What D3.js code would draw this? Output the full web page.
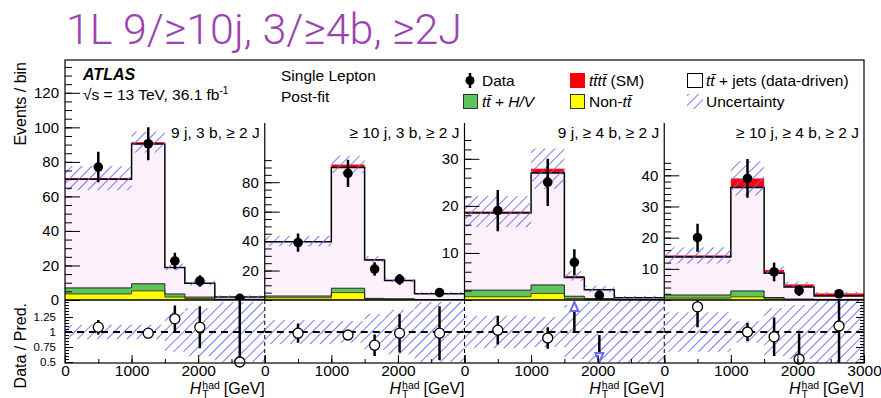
<!DOCTYPE html><html><meta charset="UTF-8">
<title>1L 9/10j, 3/4b, 2J</title>
<style>
body { margin: 0; background: #fff; overflow: hidden; }
text { font-family: "Liberation Sans", Arial, Helvetica, sans-serif; fill: #000; }
.title { font-family: Roboto, "Liberation Sans", sans-serif; font-weight: 300; fill: #9a44b2; }
</style>
<script src="https://cdn.jsdelivr.net/npm/d3@7"></script>
<svg width="881" height="398"></svg>
<script>

// HT(had) bin edges, same for every region
var bins = [0, 1000, 1500, 1800, 2250, 3000];
var regions = ["9 j, 3 b, \u2265 2 J", "\u2265 10 j, 3 b, \u2265 2 J",
               "9 j, \u2265 4 b, \u2265 2 J", "\u2265 10 j, \u2265 4 b, \u2265 2 J"];

// stacked backgrounds, one row per region
var nonTT  = [[3.5, 5.3, 1.7, 0.8, 0.2], [1.5, 5.0, 0.7, 0.5, 0.2], [0.7, 1.4, 0.3, 0.1, 0.05], [0.6, 1.0, 0.3, 0.1, 0.05]];
var ttHV   = [[3.5, 4.1, 1.8, 0.9, 0.2], [1.2, 3.0, 0.4, 0.3, 0.1], [1.4, 1.8, 0.5, 0.2, 0.05], [1.0, 1.9, 0.5, 0.2, 0.15]];
var ttJets = [[63, 81, 15.3, 8.0, 1.4], [36.8, 82, 26.1, 12.4, 4.0], [16.4, 23.8, 4.0, 1.9, 0.4], [12.2, 33.2, 7.8, 3.9, 1.1]];
var tttt   = [[0.6, 1.0, 0.3, 0.2, 0.1], [0.5, 2.0, 0.6, 0.4, 0.3], [0.3, 0.9, 0.3, 0.15, 0.1], [0.5, 2.9, 1.0, 0.8, 0.8]];
var uncert = [[7, 6, 2, 1.5, 0.8], [3.5, 6, 2, 1.5, 0.8], [3.3, 4.3, 1.0, 0.7, 0.3], [2.6, 5.5, 1.2, 0.9, 0.5]];

// data
var data    = [[77, 90.5, 22.6, 11, 1], [39, 86, 21, 14, 5], [19, 25, 8, 1, null], [20, 39, 9, 3, 2]];
var dataErr = [[8.8, 9.5, 4.8, 3.3, 1], [6.2, 9.3, 4.6, 3.7, 2.2], [4.4, 5, 2.8, 1, null], [4.5, 6.2, 3, 1.7, 1.4]];

// ratio panel
var ratio     = [[1.08, 0.98, 1.22, 1.08, 0.5], [0.98, 0.95, 0.78, 0.98, 0.98], [1.03, 0.9, 1.6, 0.37, null], [1.42, 1.0, 0.92, 0.55, 1.1]];
var ratioErr  = [[0.12, 0.05, 0.22, 0.35, 1.05], [0.16, 0.08, 0.18, 0.32, 0.45], [0.24, 0.18, 0.6, 0.58, null], [0.34, 0.15, 0.32, 0.43, 0.65]];
var ratioBand = [[0.12, 0.12, 0.33, 0.4, 0.5], [0.2, 0.18, 0.3, 0.37, 0.5], [0.27, 0.25, 0.45, 0.5, 0.55], [0.33, 0.18, 0.4, 0.45, 0.55]];

// axis setup per region
var yMax     = [139, 163, 51, 77];
var yMajor   = [[0, 20, 40, 60, 80, 100, 120], [20, 40, 60, 80], [10, 20, 30], [10, 20, 30, 40]];
var yMinor   = [d3.range(0, 136, 5), d3.range(0, 96, 5), d3.range(0, 35, 2), d3.range(0, 45, 2)];
var xLabels  = [[0, 1000, 2000], [0, 1000, 2000], [0, 1000, 2000], [0, 1000, 2000, 3000]];

var colNon = "#ffff00", colHV = "#5fc45f", colJets = "#fcf0fb", colT4 = "#ff0000", colHatch = "#6a6aff";

var svg = d3.select("svg");
var pLeft = 65, pRight = 864, pTop = 60, pMid = 300, pBot = 363;
var pw = (pRight - pLeft) / 4;

var defs = svg.append("defs");
defs.append("pattern").attr("id", "hatch").attr("patternUnits", "userSpaceOnUse")
    .attr("width", 7).attr("height", 7).attr("patternTransform", "rotate(45)")
  .append("line").attr("x1", 0).attr("y1", 0).attr("x2", 0).attr("y2", 7)
    .attr("stroke", colHatch).attr("stroke-width", 1.8);

// title
svg.append("text").attr("class", "title").attr("x", 66).attr("y", 44)
  .attr("font-size", 43).text("1L 9/\u226510j, 3/\u22654b, \u22652J");

var yR = d3.scaleLinear().domain([0.5, 1.5]).range([362, 302]);

function step(x, vals) {
  var p = "M" + x(bins[0]) + "," + vals[0];
  for (var i = 0; i < vals.length; i++) {
    p += "V" + vals[i] + "H" + x(bins[i + 1]);
  }
  return p;
}

for (var p = 0; p < 4; p++) {
  var x0 = pLeft + p * pw, x1 = x0 + pw;
  var x = d3.scaleLinear().domain([0, 3000]).range([x0, x1]);
  var y = d3.scaleLinear().domain([0, yMax[p]]).range([pMid, pTop]);

  defs.append("clipPath").attr("id", "cm" + p).append("rect")
    .attr("x", x0).attr("y", pTop).attr("width", pw).attr("height", pMid - pTop);
  defs.append("clipPath").attr("id", "cr" + p).append("rect")
    .attr("x", x0).attr("y", pMid).attr("width", pw).attr("height", pBot - pMid);

  var g = svg.append("g").attr("clip-path", "url(#cm" + p + ")");
  var layers = [nonTT[p], ttHV[p], ttJets[p], tttt[p]];
  var cols = [colNon, colHV, colJets, colT4];
  var cum = [0, 0, 0, 0, 0];
  var tops = [];
  layers.forEach(function(l, k) {
    var lo = cum.slice();
    for (var i = 0; i < 5; i++) cum[i] += l[i];
    var hi = cum.slice();
    tops.push(hi);
    g.selectAll(null).data(d3.range(5)).enter().append("rect")
      .attr("x", function(i) { return x(bins[i]); })
      .attr("width", function(i) { return x(bins[i + 1]) - x(bins[i]); })
      .attr("y", function(i) { return y(hi[i]); })
      .attr("height", function(i) { return y(lo[i]) - y(hi[i]); })
      .attr("fill", cols[k]);
  });
  // outlines of the stack
  g.append("path").attr("d", step(x, tops[0].map(y))).attr("fill", "none").attr("stroke", "#4a4a00").attr("stroke-width", 1);
  g.append("path").attr("d", step(x, tops[1].map(y))).attr("fill", "none").attr("stroke", "#222").attr("stroke-width", 1);
  g.append("path").attr("d", step(x, tops[2].map(y))).attr("fill", "none").attr("stroke", "#000").attr("stroke-width", 1.5);

  // uncertainty
  var tot = tops[3];
  g.selectAll(null).data(d3.range(5)).enter().append("rect")
    .attr("x", function(i) { return x(bins[i]); })
    .attr("width", function(i) { return x(bins[i + 1]) - x(bins[i]); })
    .attr("y", function(i) { return y(tot[i] + uncert[p][i]); })
    .attr("height", function(i) { return y(tot[i] - uncert[p][i]) - y(tot[i] + uncert[p][i]); })
    .attr("fill", "url(#hatch)");

  // data points
  var dd = d3.range(5).filter(function(i) { return data[p][i] != null; });
  var ctr = function(i) { return x((bins[i] + bins[i + 1]) / 2); };
  g.selectAll(null).data(dd).enter().append("line")
    .attr("x1", ctr).attr("x2", ctr)
    .attr("y1", function(i) { return y(data[p][i] + dataErr[p][i]); })
    .attr("y2", function(i) { return y(Math.max(0, data[p][i] - dataErr[p][i])); })
    .attr("stroke", "#000").attr("stroke-width", 2.5);
  g.selectAll(null).data(dd).enter().append("circle")
    .attr("cx", ctr).attr("cy", function(i) { return y(data[p][i]); })
    .attr("r", 4.8).attr("fill", "#000");

  // region label
  svg.append("text").attr("x", x1 - 5).attr("y", 138).attr("text-anchor", "end")
    .attr("font-size", 15.5).text(regions[p]);

  // y axis of main panel
  var ya = svg.append("g").attr("transform", "translate(" + x0 + ",0)");
  ya.append("g").call(d3.axisLeft(y).tickValues(yMinor[p]).tickSize(-7).tickFormat(""))
    .call(function(s) { s.select(".domain").remove(); });
  ya.append("g").call(d3.axisLeft(y).tickValues(yMajor[p]).tickSize(-15).tickPadding(6))
    .call(function(s) { s.select(".domain").remove(); s.selectAll("text").attr("font-size", 15).attr("font-family", null); });
  ya.selectAll("line").attr("stroke", "#000");
  if (p > 0) {
    svg.append("line").attr("x1", x0).attr("x2", x0).attr("y1", 123).attr("y2", pMid).attr("stroke", "#000").attr("stroke-width", 1.2);
  }

  // ratio panel
  var gr = svg.append("g").attr("clip-path", "url(#cr" + p + ")");
  gr.selectAll(null).data(d3.range(5)).enter().append("rect")
    .attr("x", function(i) { return x(bins[i]); })
    .attr("width", function(i) { return x(bins[i + 1]) - x(bins[i]); })
    .attr("y", function(i) { return yR(1 + ratioBand[p][i]); })
    .attr("height", function(i) { return yR(1 - ratioBand[p][i]) - yR(1 + ratioBand[p][i]); })
    .attr("fill", "url(#hatch)");
  gr.append("line").attr("x1", x0).attr("x2", x1).attr("y1", yR(1)).attr("y2", yR(1))
    .attr("stroke", "#000").attr("stroke-width", 2).attr("stroke-dasharray", "7,5");

  var rr = d3.range(5).filter(function(i) { return ratio[p][i] != null; });
  var inR = rr.filter(function(i) { return ratio[p][i] >= 0.48 && ratio[p][i] <= 1.53; });
  var upR = rr.filter(function(i) { return ratio[p][i] > 1.53; });
  var dnR = rr.filter(function(i) { return ratio[p][i] < 0.48; });
  gr.selectAll(null).data(inR).enter().append("line")
    .attr("x1", ctr).attr("x2", ctr)
    .attr("y1", function(i) { return yR(ratio[p][i] + ratioErr[p][i]); })
    .attr("y2", function(i) { return yR(ratio[p][i] - ratioErr[p][i]); })
    .attr("stroke", "#000").attr("stroke-width", 2.5);
  gr.selectAll(null).data(upR).enter().append("line")
    .attr("x1", ctr).attr("x2", ctr)
    .attr("y1", function(i) { return yR(ratio[p][i] - ratioErr[p][i]); }).attr("y2", 310)
    .attr("stroke", "#000").attr("stroke-width", 2.5);
  gr.selectAll(null).data(dnR).enter().append("line")
    .attr("x1", ctr).attr("x2", ctr)
    .attr("y1", function(i) { return yR(ratio[p][i] + ratioErr[p][i]); }).attr("y2", 353)
    .attr("stroke", "#000").attr("stroke-width", 2.5);
  svg.selectAll(null).data(upR).enter().append("path")
    .attr("d", function(i) { var c = ctr(i); return "M" + (c - 4) + ",311L" + (c + 4) + ",311L" + c + ",302Z"; })
    .attr("fill", "#fff").attr("stroke", colHatch).attr("stroke-width", 2);
  svg.selectAll(null).data(dnR).enter().append("path")
    .attr("d", function(i) { var c = ctr(i); return "M" + (c - 4) + ",353L" + (c + 4) + ",353L" + c + ",362Z"; })
    .attr("fill", "#fff").attr("stroke", colHatch).attr("stroke-width", 2);
  svg.selectAll(null).data(inR).enter().append("circle")
    .attr("cx", ctr).attr("cy", function(i) { return yR(ratio[p][i]); })
    .attr("r", 5).attr("fill", "#fff").attr("stroke", "#000").attr("stroke-width", 1.3);

  if (p > 0) {
    svg.append("line").attr("x1", x0).attr("x2", x0).attr("y1", pMid).attr("y2", pBot)
      .attr("stroke", "#000").attr("stroke-width", 1).attr("stroke-dasharray", "4,3");
  }

  // x axis
  var xa = svg.append("g").attr("transform", "translate(0," + pBot + ")");
  xa.append("g").call(d3.axisBottom(x).tickValues(d3.range(0, 3001, 500)).tickSize(-4).tickFormat(""))
    .call(function(s) { s.select(".domain").remove(); });
  xa.append("g").call(d3.axisBottom(x).tickValues([0, 1000, 2000, 3000]).tickSize(-8).tickFormat(""))
    .call(function(s) { s.select(".domain").remove(); });
  xa.append("g").call(d3.axisBottom(x).tickValues(xLabels[p]).tickSize(0).tickPadding(2).tickFormat(d3.format("d")))
    .call(function(s) { s.select(".domain").remove(); s.selectAll("text").attr("font-size", 15.5).attr("font-family", null); });
  xa.selectAll("line").attr("stroke", "#000");

  // x title
  var xt = svg.append("g");
  var tH = xt.append("text").attr("font-size", 16).attr("font-style", "italic").text("H");
  var wH = tH.node().getComputedTextLength();
  var tHad = xt.append("text").attr("x", wH + 1).attr("y", -5.5).attr("font-size", 10.5).text("had");
  xt.append("text").attr("x", wH + 1).attr("y", 4).attr("font-size", 10.5).text("T");
  var wHad = tHad.node().getComputedTextLength();
  var tG = xt.append("text").attr("x", wH + wHad + 5).attr("font-size", 16).text("[GeV]");
  var wTot = wH + wHad + 5 + tG.node().getComputedTextLength();
  xt.attr("transform", "translate(" + (x1 - wTot) + ",394)");
}

// ratio y axis
var ra = svg.append("g").attr("transform", "translate(" + pLeft + ",0)");
ra.append("g").call(d3.axisLeft(yR).tickValues(d3.range(0.5, 1.51, 0.05)).tickSize(-4).tickFormat(""));
ra.append("g").call(d3.axisLeft(yR).tickValues([0.5, 0.75, 1, 1.25]).tickSize(-8).tickPadding(9).tickFormat(d3.format("")))
  .call(function(s) { s.selectAll("text").attr("font-size", 11.5).attr("font-family", null); });
ra.selectAll(".domain").remove();
ra.selectAll("line").attr("stroke", "#000");
var rb = svg.append("g").attr("transform", "translate(" + pRight + ",0)");
rb.append("g").call(d3.axisRight(yR).tickValues(d3.range(0.5, 1.51, 0.05)).tickSize(-4).tickFormat(""));
rb.append("g").call(d3.axisRight(yR).tickValues([0.5, 0.75, 1, 1.25, 1.5]).tickSize(-8).tickFormat(""));
rb.selectAll(".domain").remove();
rb.selectAll("line").attr("stroke", "#000");

// frame
svg.append("rect").attr("x", pLeft).attr("y", pTop).attr("width", pRight - pLeft).attr("height", pBot - pTop)
  .attr("fill", "none").attr("stroke", "#000").attr("stroke-width", 1.2);
svg.append("line").attr("x1", pLeft).attr("x2", pRight).attr("y1", pMid).attr("y2", pMid)
  .attr("stroke", "#000").attr("stroke-width", 1.5);

// axis titles
svg.append("text").attr("transform", "translate(26,62) rotate(-90)").attr("text-anchor", "end")
  .attr("font-size", 16).text("Events / bin");
svg.append("text").attr("transform", "translate(26,303) rotate(-90)").attr("text-anchor", "end")
  .attr("font-size", 16).text("Data / Pred.");

// labels
svg.append("text").attr("x", 83).attr("y", 80).attr("font-size", 16).attr("font-weight", "bold")
  .attr("font-style", "italic").text("ATLAS");
var en = svg.append("text").attr("x", 83).attr("y", 100).attr("font-size", 15.5);
en.append("tspan").text("\u221As = 13 TeV, 36.1 fb");
en.append("tspan").attr("font-size", 10).attr("dy", -6).text("-1");
svg.append("text").attr("x", 281).attr("y", 81).attr("font-size", 15.5).text("Single Lepton");
svg.append("text").attr("x", 281).attr("y", 102).attr("font-size", 15.5).text("Post-fit");

// legend
function legText(xp, yp, parts) {
  var t = svg.append("text").attr("x", xp).attr("y", yp).attr("font-size", 15.5);
  parts.forEach(function(s) {
    var ts = t.append("tspan").text(s[0]);
    if (s[1]) ts.attr("font-style", "italic");
  });
}
svg.append("line").attr("x1", 470).attr("x2", 470).attr("y1", 73).attr("y2", 88).attr("stroke", "#000").attr("stroke-width", 2.5);
svg.append("circle").attr("cx", 470).attr("cy", 80.5).attr("r", 4.5).attr("fill", "#000");
legText(482, 86, [["Data"]]);
svg.append("rect").attr("x", 570).attr("y", 73).attr("width", 15).attr("height", 15).attr("fill", colT4);
legText(589, 86, [["tt\u0304tt\u0304", 1], [" (SM)"]]);
svg.append("rect").attr("x", 687.5).attr("y", 73.5).attr("width", 15).attr("height", 14).attr("fill", "#fff").attr("stroke", "#000");
legText(706, 86, [["tt\u0304", 1], [" + jets (data-driven)"]]);
svg.append("rect").attr("x", 463.5).attr("y", 94.5).attr("width", 14).attr("height", 14).attr("fill", colHV).attr("stroke", "#333");
legText(482, 107, [["tt\u0304", 1], [" + "], ["H/V", 1]]);
svg.append("rect").attr("x", 570.5).attr("y", 94.5).attr("width", 14).attr("height", 14).attr("fill", colNon).attr("stroke", "#333");
legText(589, 107, [["Non-"], ["tt\u0304", 1]]);
svg.append("rect").attr("x", 687).attr("y", 94).attr("width", 16).attr("height", 15).attr("fill", "url(#hatch)");
legText(706, 107, [["Uncertainty"]]);

</script>
